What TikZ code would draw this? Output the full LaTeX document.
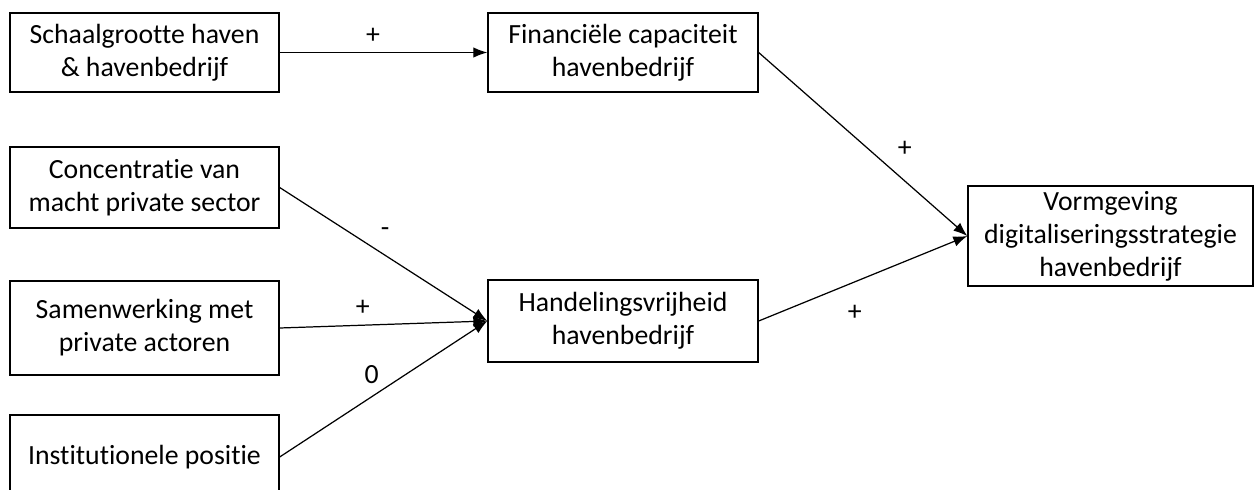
\documentclass[tikz,border=0pt]{standalone}
\usepackage{fontspec}
\setmainfont{Carlito}[Ligatures={NoCommon}]
\usetikzlibrary{arrows.meta, positioning}

\begin{document}
\begin{tikzpicture}[x=0.02cm, y=-0.02cm, ->, >={Latex[length=2.8mm,width=2.1mm]},
    every node/.style={font=\fontsize{15.8}{18.8}\selectfont},
    factor/.style={draw, line width=0.8pt, align=center, inner sep=0pt, minimum width=5.38cm},
    sign/.style={inner sep=1pt}]
  \useasboundingbox (0,0) rectangle (1255,490);
  \clip (0,0) rectangle (1255,490);
  \node[factor, minimum height=1.58cm] (Schaal) at (144.5, 52.5) {Schaalgrootte haven\\\& havenbedrijf};
  \node[factor, minimum height=1.58cm, minimum width=5.4cm] (Fin) at (623, 52.5) {Financiële capaciteit\\havenbedrijf};
  \node[factor, minimum height=1.62cm] (Conc) at (144.5, 187.5) {Concentratie van\\macht private sector};
  \node[factor, minimum height=1.88cm] (Samen) at (144.5, 328) {Samenwerking met\\private actoren};
  \node[factor, minimum height=1.68cm] (Inst) at (144.5, 457) {Institutionele positie};
  \node[factor, minimum height=1.64cm, minimum width=5.4cm] (Hand) at (623, 321) {Handelingsvrijheid\\havenbedrijf};
  \node[factor, minimum height=2cm, minimum width=5.7cm] (Vorm) at (1110.5, 236) {Vormgeving\\digitaliseringsstrategie\\havenbedrijf};
  \draw[line width=0.7pt] (Schaal) -- node[sign, above=4pt, pos=0.45]{+} (Fin);
  \draw[line width=0.7pt] (Fin.east) -- node[sign, above right=6pt, pos=0.62]{+} (Vorm.west);
  \draw[line width=0.7pt] (Hand.east) -- node[sign, below=12pt, pos=0.46]{+} (Vorm.west);
  \draw[line width=0.7pt] (Conc.east) -- node[sign, above right=6pt, pos=0.44]{-} (Hand.west);
  \draw[line width=0.7pt] (Samen.east) -- node[sign, above=4pt, pos=0.4]{+} (Hand.west);
  \draw[line width=0.7pt] (Inst.east) -- node[sign, above left=2pt, pos=0.5]{0} (Hand.west);
\end{tikzpicture}
\end{document}
